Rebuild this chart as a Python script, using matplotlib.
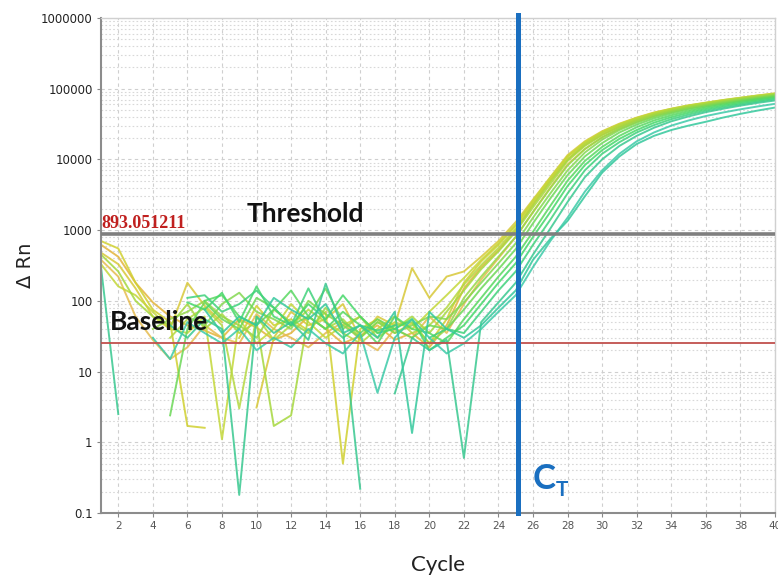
import numpy as np
import matplotlib
matplotlib.use('Agg')
import matplotlib.pyplot as plt

# 数据：每条扩增曲线 (cycle 1..40)，None 表示负值/不显示
cycles = list(range(1, 41))

c01 = [620, 420, 180, 95, 60, 45, 38, 30, 55, 42, 28, 35, 60, 40, 25, 32, 45, 28, 35, 22, 45, 150, 300, 520, 1000, 2300, 5000, 10000, 16000, 22500, 29000, 36000, 43000, 49000, 55000, 60000, 65000, 70000, 75000, 80000]
c02 = [480, 330, 150, 60, 40, 180, 85, 50, None, 3.1, 30, 70, 45, 55, 90, 30, 60, 45, 290, 110, 220, 260, 420, 700, 1300, 2700, 5600, 11500, 18000, 25000, 32000, 39000, 46000, 52000, 58000, 63000, 69000, 74000, 80000, 86000]
c03 = [380, 220, 60, 28, 15, 22, 45, 30, 25, 65, 40, 30, 22, 35, 50, 28, 20, 40, 30, 60, 35, 90, 200, 400, 800, 1800, 4000, 8500, 14000, 20500, 27000, 34000, 41000, 47000, 53000, 58000, 63000, 68000, 73000, 78000]
c04 = [700, 550, 180, 75, 50, 1.7, 1.6, None, 30, 85, 45, 55, 38, 70, 0.5, 40, 55, 35, 48, 25, 55, 180, 360, 620, 1150, 2500, 5200, 11000, 17000, 24000, 31000, 38000, 45000, 51000, 57000, 62000, 67000, 72000, 77000, 82000]
c05 = [330, 160, 120, 70, 40, 35, 60, 1.1, 55, 25, 40, 90, 50, 30, 45, 60, 35, 50, 40, 70, 120, 210, 380, 650, 1200, 2600, 5500, 11000, 17500, 24500, 31500, 38500, 45500, 52000, 58000, 63500, 69000, 74500, 80000, 85000]
c06 = [None, None, None, None, 30, 55, 80, 45, 3, 60, 28, 45, 75, 50, 35, 25, 40, 60, 35, 45, 80, 170, 320, 560, 1050, 2300, 4900, 10000, 16500, 23500, 30500, 37500, 44500, 51000, 57000, 62500, 68000, 73500, 79000, 84000]
c07 = [450, 260, 100, 60, 45, 90, 40, 65, 35, 50, 1.7, 2.4, 60, 40, 55, 30, 50, 40, 60, 35, 70, 140, 280, 500, 950, 2100, 4500, 9500, 15500, 22000, 29000, 36000, 43000, 49500, 55500, 61000, 66500, 72000, 77500, 83000]
c08 = [None, None, None, 40, 55, 70, 100, 60, 45, 30, 75, 50, 35, 80, 40, 60, 30, 45, 50, 25, 40, 110, 220, 420, 800, 1800, 3900, 8200, 14000, 20500, 27500, 34500, 41500, 48000, 54000, 59500, 65000, 70500, 76000, 81500]
c09 = [None, None, None, None, None, 60, 45, 90, 130, 70, 55, 40, 100, 65, 45, 30, 50, 35, 45, 60, 55, 95, 180, 340, 650, 1500, 3300, 7000, 12500, 19000, 26000, 33000, 40000, 46500, 52500, 58000, 63500, 69000, 74500, 80000]
c10 = [None, None, None, None, 2.4, 40, 95, 55, 40, 110, 80, 45, 60, 150, 50, 35, 55, 40, 30, 45, 40, 75, 150, 280, 540, 1250, 2800, 6000, 11000, 17000, 24000, 31000, 38000, 44500, 50500, 56000, 61500, 67000, 72500, 78000]
c11 = [None, None, None, None, None, None, 100, 120, 60, 45, 75, 140, 60, 40, 70, 45, 25, 60, 40, 35, 25, 55, 110, 220, 420, 950, 2200, 5000, 9500, 15000, 21500, 28500, 35500, 42000, 48000, 54000, 59500, 65000, 70500, 76000]
c12 = [None, None, None, None, None, 95, 75, 130, 50, 160, 60, 45, 90, 55, 120, 60, 35, 40, 55, 20, 30, 45, 90, 180, 340, 800, 1800, 4200, 8300, 13500, 19500, 26000, 33000, 39500, 45500, 51500, 57000, 62500, 68000, 73500]
c13 = [None, None, None, None, None, 110, 120, 70, 90, 140, 80, 45, 150, 50, 30, 45, 38, 45, None, 30, 40, 35, 70, 140, 260, 620, 1400, 3300, 7000, 12000, 17500, 24000, 30500, 37000, 43000, 49000, 54500, 60000, 65500, 71000]
c14 = [300, 2.5, None, None, 45, 30, 55, 40, 0.18, 60, 35, 50, 28, 175, 40, 0.22, None, 4.9, 30, 20, 28, 0.6, 50, 95, 180, 450, 1050, 2500, 5600, 10000, 15500, 21500, 28000, 34500, 40500, 46500, 52000, 57500, 63000, 68000]
c15 = [None, None, None, None, None, None, 75, 35, 60, 45, 110, 75, 55, 90, 35, 45, 30, 70, 1.35, 70, 40, 30, 45, 80, 140, 380, 750, 1350, 3000, 6500, 11000, 16500, 21500, 26000, 30000, 34000, 39000, 44000, 49000, 54000]
c16 = [None, None, None, 30, 15, 50, 35, 25, 40, 20, 30, 22, 40, 25, 18, 35, 5, 30, 55, 30, 18, 25, 40, 70, 120, 300, 700, 1500, 3500, 7000, 12000, 18000, 24000, 30000, 35500, 41000, 46000, 51000, 56000, 61000]

curves = [c01, c02, c03, c04, c05, c06, c07, c08, c09, c10, c11, c12, c13, c14, c15, c16]
colors = ['#e3b43c', '#d8c838', '#e6bc50', '#d0d030', '#c4d83a', '#b4d840', '#a6d83e',
          '#96d848', '#84d850', '#6cd858', '#58d860', '#46d86a', '#40d27c', '#38c890',
          '#34c89c', '#3ccaa8']

threshold = 893.051211
baseline = 25.5
ct = 25.15

xticks = list(range(2, 41, 2))
yticks = [0.1, 1, 10, 100, 1000, 10000, 100000, 1000000]
ytick_labels = ['0.1', '1', '10', '100', '1000', '10000', '100000', '1000000']

fig = plt.figure(figsize=(7.78, 5.78), dpi=100)
ax = fig.add_axes([0.1298, 0.1125, 0.8663, 0.8565])

for vals, col in zip(curves, colors):
    y = np.array(vals, dtype=float)
    ax.plot(cycles, y, color=col, lw=1.4, alpha=0.85, zorder=2)

ax.set_yscale('log')
ax.set_xlim(1, 40)
ax.set_ylim(0.1, 1e6)

# 阈值线、基线、Ct 线
ax.axhline(threshold, color='#7f7f7f', lw=2.6, zorder=3)
ax.axhline(baseline, color='#c0504d', lw=1.3, zorder=3)
ax.axvline(ct, ymin=0, ymax=1.006, color='#1a6fc0', lw=3.6, zorder=4, clip_on=False)

ax.set_xticks(xticks)
ax.set_xticklabels([str(t) for t in xticks], fontsize=7.5, color='#555555')
ax.set_yticks(yticks)
ax.set_yticklabels(ytick_labels, fontsize=8.5, color='#222222')
ax.minorticks_on()
ax.xaxis.set_minor_locator(matplotlib.ticker.NullLocator())
ax.yaxis.set_minor_formatter(matplotlib.ticker.NullFormatter())
ax.tick_params(axis='both', which='major', length=3, color='#888888', pad=3)
ax.tick_params(axis='y', which='minor', length=0)

ax.grid(True, which='major', color='#cfcfcf', ls=(0, (3, 3)), lw=0.8, zorder=0)
ax.grid(True, which='minor', axis='y', color='#d8d8d8', ls=(0, (1.5, 2)), lw=0.8, zorder=0)

ax.spines['left'].set_color('#8c8c8c')
ax.spines['left'].set_linewidth(1.5)
ax.spines['bottom'].set_color('#8c8c8c')
ax.spines['bottom'].set_linewidth(1.5)
ax.spines['top'].set_color('#d0d0d0')
ax.spines['top'].set_linewidth(1.0)
ax.spines['right'].set_color('#d0d0d0')
ax.spines['right'].set_linewidth(1.0)

ax.set_ylabel('Δ Rn', fontsize=14, family='DejaVu Sans', color='#222222', labelpad=4)
ax.set_xlabel('Cycle', fontsize=16, family='Lato', color='#222222', labelpad=17)

# 标注文字
ax.text(1.05, threshold * 1.06, '893.051211', fontsize=13, family='Liberation Serif',
        weight='bold', color='#c0201f', va='bottom', ha='left', zorder=5)
ax.text(9.45, threshold * 1.3, 'Threshold', fontsize=19, family='Lato', weight='bold',
        color='#111111', va='bottom', ha='left', zorder=5)
ax.text(1.5, 34, 'Baseline', fontsize=19, family='Lato', weight='bold',
        color='#111111', va='bottom', ha='left', zorder=5)
ax.text(26.0, 0.22, 'C', fontsize=25, family='Lato', weight='bold',
        color='#1a6fc0', va='baseline', ha='left', zorder=5)
ax.text(27.3, 0.175, 'T', fontsize=15, family='Lato', weight='bold',
        color='#1a6fc0', va='baseline', ha='left', zorder=5)

plt.savefig('out.png', dpi=100)
